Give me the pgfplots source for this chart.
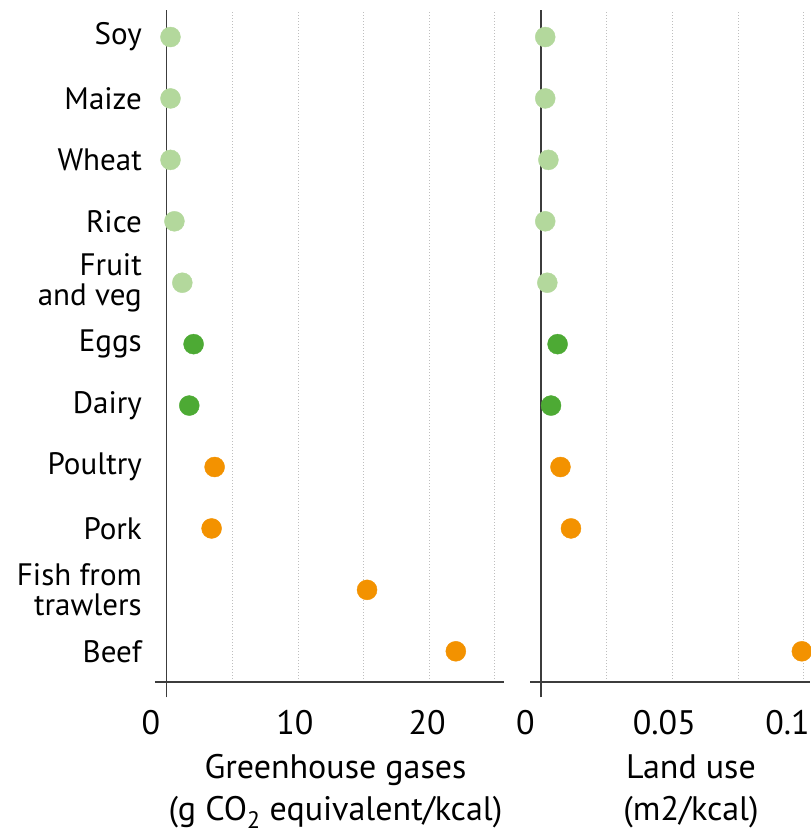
\documentclass[border=0pt]{standalone}
\usepackage{pgfplots}
\usepackage{pgfplotstable}
\pgfplotsset{compat=1.18}
\usepackage{fontspec}
\setmainfont{PT Sans}
\definecolor{lgreen}{HTML}{B3D89C}
\definecolor{dgreen}{HTML}{4DAA34}
\definecolor{orng}{HTML}{F39200}
\definecolor{axisgray}{HTML}{3C3C3C}
\definecolor{gridgray}{HTML}{BEBEBE}

\pgfplotstableread{
y ghg land
11 0.3 0.0016
10 0.3 0.0016
9 0.3 0.0028
8 0.6 0.0016
7 1.2 0.0024
}\plants
\pgfplotstableread{
y ghg land
6 2.06 0.0063
5 1.73 0.0038
}\animal
\pgfplotstableread{
y ghg land
4 3.66 0.0074
3 3.43 0.0114
2 15.27 nan
1 22.03 0.0993
}\meat

\pgfplotsset{
  panel/.style={
    scale only axis,
    height=672pt,
    ymin=0.5, ymax=11.44,
    axis x line*=bottom,
    axis y line*=left,
    y axis line style={draw=none},
    x axis line style={axisgray, line width=1.3pt, -},
    major tick length=0pt,
    xmajorgrids,
    grid style={gridgray, dash pattern=on 1pt off 2pt, line width=0.7pt},
    ytick={1,...,11},
    scaled x ticks=false,
    xticklabel style={anchor=north, inner sep=0pt, yshift=-28pt, font=\fontsize{34pt}{40pt}\selectfont},
    xlabel style={at={(axis description cs:0.5,0)}, anchor=north, inner sep=0pt, yshift=-72pt, align=center, font=\fontsize{34pt}{42pt}\selectfont},
    clip=false,
  },
  pl/.style={only marks, mark=*, mark size=10pt, color=lgreen, mark options={draw=lgreen, fill=lgreen}},
  an/.style={only marks, mark=*, mark size=10pt, color=dgreen, mark options={draw=dgreen, fill=dgreen}},
  mt/.style={only marks, mark=*, mark size=10pt, color=orng, mark options={draw=orng, fill=orng}},
}

\begin{document}
\begin{tikzpicture}
\begin{axis}[panel,
  at={(0pt,0pt)}, anchor=south west,
  width=349pt,
  xmin=-0.88, xmax=25.7,
  xtick={0,5,10,15,20,25},
  xticklabels={\makebox[0pt][r]{0\hspace{6.5pt}},,\makebox[0pt]{10\hspace{6pt}},,\makebox[0pt]{20\hspace{4pt}},},
  yticklabels={Beef,Fish from\\trawlers,Pork,Poultry,Dairy,Eggs,Fruit\\and veg,Rice,Wheat,Maize,Soy},
  yticklabel style={align=right, anchor=east, inner sep=0pt, xshift=-13pt, font=\fontsize{31pt}{30pt}\selectfont},
  xlabel={Greenhouse gases\\(g CO\textsubscript{2} equivalent/kcal)},
  xlabel style={xshift=6pt},
]
\draw[axisgray, line width=1.6pt] (axis cs:0,0.25) -- (axis cs:0,11.44);
\addplot[pl] table[x=ghg, y=y] {\plants};
\addplot[an] table[x=ghg, y=y] {\animal};
\addplot[mt] table[x=ghg, y=y] {\meat};
\end{axis}

\begin{axis}[panel,
  at={(375pt,0pt)}, anchor=south west,
  width=280pt,
  xmin=-0.0042, xmax=0.1024,
  xtick={0,0.025,0.05,0.075,0.1},
  xticklabels={\makebox[0pt][r]{0\hspace{6.5pt}},,\makebox[0pt]{0.05\hspace{16pt}},,\makebox[0pt][r]{0.1\hspace{-6pt}}},
  yticklabels={},
  xlabel={Land use\\(m2/kcal)},
  xlabel style={xshift=21pt},
]
\draw[axisgray, line width=1.6pt] (axis cs:0,0.25) -- (axis cs:0,11.44);
\addplot[pl] table[x=land, y=y] {\plants};
\addplot[an] table[x=land, y=y] {\animal};
\addplot[mt] table[x=land, y=y] {\meat};
\end{axis}
\pgfresetboundingbox
\useasboundingbox (-155pt,-152pt) rectangle (655pt,682pt);
\end{tikzpicture}
\end{document}
